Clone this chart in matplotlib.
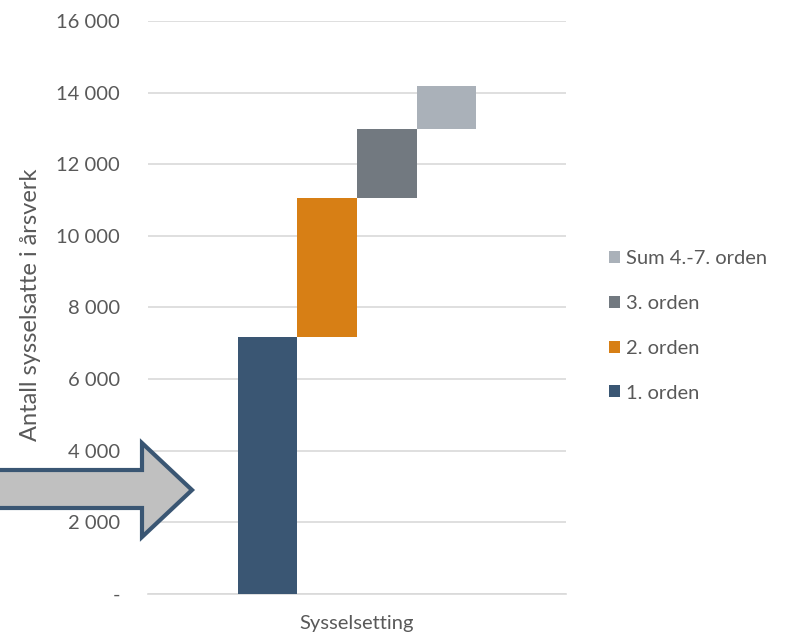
import matplotlib
matplotlib.use("Agg")
import matplotlib.pyplot as plt
from matplotlib.patches import Polygon
from matplotlib.ticker import FuncFormatter

plt.rcParams['font.family'] = ['Lato', 'DejaVu Sans']

kategori = "Sysselsetting"
serier = ["1. orden", "2. orden", "3. orden", "Sum 4.-7. orden"]
verdier = [7180, 3870, 1930, 1200]
farger = ["#3a5673", "#d77f15", "#727980", "#aab1b9"]
yticks = [0, 2000, 4000, 6000, 8000, 10000, 12000, 14000, 16000]

W, H = 786, 637
fig = plt.figure(figsize=(W / 100, H / 100), dpi=100)
ax = fig.add_axes([148 / W, 43 / H, 418 / W, 573 / H])

bredde = 0.1425
bunn = 0
for i, (navn, v, c) in enumerate(zip(serier, verdier, farger)):
    ax.bar((i - 1.5) * bredde, v, width=bredde, bottom=bunn, color=c,
           label=navn, zorder=3)
    bunn += v

ax.set_xlim(-0.5, 0.5)
ax.set_ylim(0, 16000)
ax.set_yticks(yticks)
ax.yaxis.set_major_formatter(FuncFormatter(
    lambda v, p: "-" if v == 0 else f"{int(v):,}".replace(",", " ")))
ax.set_xticks([0])
ax.set_xticklabels([kategori])
ax.grid(axis='y', color="#d9d9d9", linewidth=1.2, zorder=0)
for s in ['top', 'right', 'left']:
    ax.spines[s].set_visible(False)
ax.spines['bottom'].set_color("#d9d9d9")
ax.spines['bottom'].set_linewidth(1.2)
ax.tick_params(length=0, colors="#595959", labelsize=14.5)
ax.tick_params(axis='y', pad=20)
ax.tick_params(axis='x', pad=15)
ax.set_ylabel("Antall sysselsatte i årsverk", color="#595959", fontsize=17)
ax.yaxis.set_label_coords(-0.255, 0.505)

h, l = ax.get_legend_handles_labels()
leg = ax.legend(h[::-1], l[::-1], loc='center left',
                bbox_to_anchor=(1.06, 0.468), frameon=False, fontsize=14.5,
                labelcolor="#595959", handlelength=0.55, handleheight=0.55,
                handletextpad=0.3, labelspacing=1.38)

# pil
pts = [(-10, 470), (142, 470), (142, 443), (192, 490), (142, 537),
       (142, 508), (-10, 508)]
pts = [(x / W, 1 - y / H) for x, y in pts]
fig.add_artist(Polygon(pts, closed=True, transform=fig.transFigure,
                       facecolor="#c0c0c0", edgecolor="#3a5673",
                       linewidth=3, joinstyle='miter', zorder=5))

fig.savefig("out.png", dpi=100)
